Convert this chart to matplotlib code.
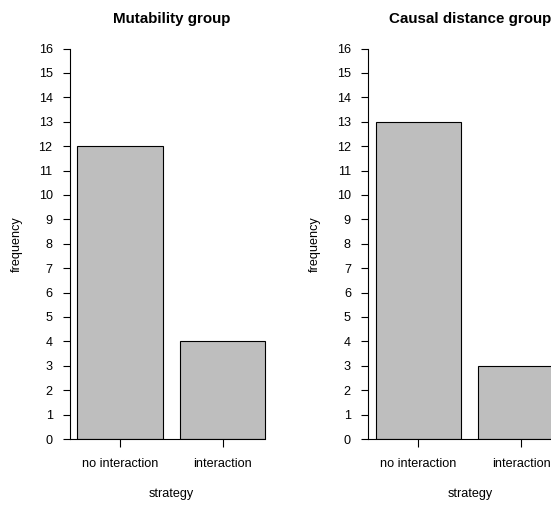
import matplotlib
matplotlib.use("Agg")
import matplotlib.pyplot as plt

plt.rcParams['font.family'] = ['Liberation Sans', 'DejaVu Sans']

# Survey counts per strategy, for the two experimental groups
strategies = ["no interaction", "interaction"]
mutability_counts = [12, 4]
causal_distance_counts = [13, 3]
panel_titles = ["Mutability group", "Causal distance group"]
y_ticks = list(range(0, 17))

W, H = 551, 505
fig = plt.figure(figsize=(W / 100, H / 100), dpi=100)

BASE = 9.1          # base font size (pt)
bar_w = 1.0
space = 0.2
centers = [space + bar_w / 2 + i * (bar_w + space) for i in range(len(strategies))]
x_lo = space
x_hi = centers[-1] + bar_w / 2
ext = 0.04 * (x_hi - x_lo)
xlim = (x_lo - ext, x_hi + ext)

px_per_unit = 85.5
ax_w = (xlim[1] - xlim[0]) * px_per_unit
y_top_px, y_bot_px = 48.5, 439.0

panel_left_px = [69.8, 368.2]
panel_counts = [mutability_counts, causal_distance_counts]

for left_px, counts, title in zip(panel_left_px, panel_counts, panel_titles):
    ax = fig.add_axes([left_px / W, 1 - y_bot_px / H, ax_w / W, (y_bot_px - y_top_px) / H])
    ax.bar(centers, counts, width=bar_w, color="#bebebe", edgecolor="black", linewidth=0.8,
           zorder=2)
    ax.set_xlim(*xlim)
    ax.set_ylim(0, 16)
    for s in ("top", "right"):
        ax.spines[s].set_visible(False)
    ax.spines["left"].set_bounds(0, 16)
    ax.spines["left"].set_linewidth(0.8)
    ax.spines["bottom"].set_bounds(xlim[0], x_hi)
    ax.spines["bottom"].set_linewidth(0.8)
    ax.spines["bottom"].set_zorder(3)
    ax.patch.set_visible(False)

    ax.set_yticks(y_ticks)
    ax.set_yticklabels([str(v) for v in y_ticks])
    ax.set_xticks(centers)
    ax.set_xticklabels(strategies)
    ax.tick_params(axis="y", length=5.2, width=0.8, pad=7.2, labelsize=BASE, colors="black")
    ax.tick_params(axis="x", length=5.8, width=0.8, pad=7.6, labelsize=BASE, colors="black")

    cx = left_px + ax_w / 2
    fig.text(cx / W, 1 - 23 / H, title, ha="center", va="baseline",
             fontsize=BASE * 1.2, fontweight="bold")
    fig.text(cx / W, 1 - 497 / H, "strategy", ha="center", va="baseline", fontsize=BASE)
    fig.text((left_px - 53) / W, 1 - ((y_top_px + y_bot_px) / 2) / H, "frequency",
             ha="center", va="center", rotation=90, fontsize=BASE)

fig.savefig("out.png", dpi=100)
